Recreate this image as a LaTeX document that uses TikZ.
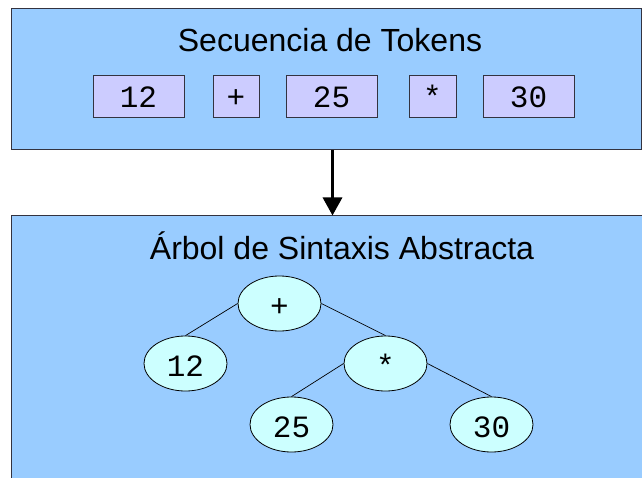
\documentclass[tikz,border=0pt]{standalone}
\usepackage{fontspec}
\setmainfont{Liberation Sans}
\newfontfamily\monof{Liberation Mono}
\usetikzlibrary{shapes.geometric,arrows.meta}
\definecolor{boxblue}{HTML}{99CCFF}
\definecolor{tokfill}{HTML}{CCCCFF}
\definecolor{nodefill}{HTML}{CCFFFF}
\definecolor{edgegray}{HTML}{333340}
\tikzset{
  panel/.style={draw=edgegray, fill=boxblue, line width=1pt, rectangle, inner sep=0pt},
  tok/.style={draw=edgegray, fill=tokfill, line width=0.9pt, rectangle, inner sep=0pt, minimum height=42pt, text height=23pt, text depth=0pt, font=\monof\fontsize{31}{31}\selectfont},
  tnode/.style={draw=black, fill=nodefill, line width=0.8pt, ellipse, inner sep=0pt, minimum width=83pt, minimum height=55pt, text height=25pt, text depth=0pt, font=\monof\fontsize{31}{31}\selectfont},
  title/.style={font=\fontsize{32}{32}\selectfont, inner sep=0pt, anchor=base},
  edge/.style={draw=black, line width=0.7pt},
  bigarrow/.style={draw=black, line width=3.2pt, -{Triangle[width=19pt,length=18pt]}}
}
\begin{document}
\begin{tikzpicture}[x=1pt,y=-1pt]
\useasboundingbox (0,0) rectangle (642,478);
\fill[white] (0,0) rectangle (642,478);
\begin{scope}
\clip (0,0) rectangle (642,478);
\node[panel, minimum width=630pt, minimum height=141pt] (topbox) at (326,79.5) {};
\node[panel, minimum width=662pt, minimum height=284pt] (botbox) at (342,358) {};
\end{scope}
\node[title] (ttop) at (330,52) {Secuencia de Tokens};
\node[title] (tbot) at (342,260) {Árbol de Sintaxis Abstracta};
% tokens
\node[tok, minimum width=91pt] (t1) at (138.5,96) {12};
\node[tok, minimum width=46pt] (t2) at (236,96) {+};
\node[tok, minimum width=91pt] (t3) at (331.5,96) {25};
\node[tok, minimum width=47pt] (t4) at (432.5,96) {*};
\node[tok, minimum width=91pt] (t5) at (528.5,96) {30};
% arrow
\coordinate (ax) at (332.5,0);
\draw[bigarrow] (topbox.south -| ax) -- (botbox.north -| ax);
% tree
\node[tnode] (plus) at (279.5,303.5) {+};
\node[tnode] (n12) at (185.5,363.5) {12};
\node[tnode] (star) at (385.5,363.5) {*};
\node[tnode] (n25) at (291.5,424.5) {25};
\node[tnode] (n30) at (491.5,424.5) {30};
\draw[edge] (plus.west) -- (n12.north);
\draw[edge] (plus.east) -- (star.north);
\draw[edge] (star.west) -- (n25.north);
\draw[edge] (star.east) -- (n30.north);
\end{tikzpicture}
\end{document}
